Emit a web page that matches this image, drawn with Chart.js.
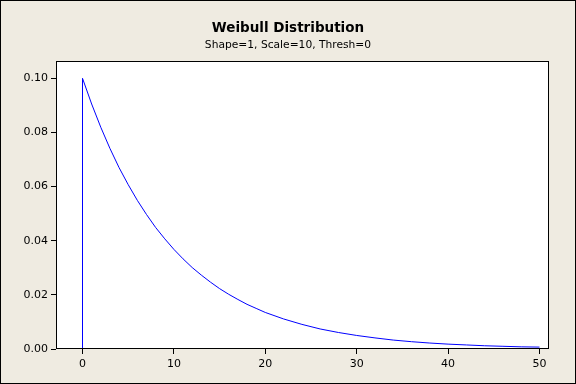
<!DOCTYPE html>
<html>
<head>
<meta charset="utf-8">
<script src="https://cdn.jsdelivr.net/npm/chart.js@4"></script>
<style>
    html, body { margin: 0; padding: 0; background: #efebe1; }
    #wrap { width: 576px; height: 384px; }
</style>
</head>
<body>
<div id="wrap"><canvas id="chart-weibull" width="576" height="384"></canvas></div>
<script>
// values
const xValues = [0, 0, 1, 2, 3, 4, 5, 6, 7, 8, 9, 10, 11, 12, 13, 14, 15, 16, 17, 18, 19, 20,
    22, 24, 26, 28, 30, 32, 34, 36, 38, 40, 42, 44, 46, 48, 50];
const density = [0, 0.1000, 0.0905, 0.0819, 0.0741, 0.0670, 0.0607, 0.0549, 0.0497, 0.0449, 0.0407,
    0.0368, 0.0333, 0.0301, 0.0273, 0.0247, 0.0223, 0.0202, 0.0183, 0.0165, 0.0150, 0.0135,
    0.0111, 0.0091, 0.0074, 0.0061, 0.0050, 0.0041, 0.0033, 0.0027, 0.0022, 0.0018,
    0.0015, 0.0012, 0.0010, 0.0008, 0.0007];
const xTicks = [0, 10, 20, 30, 40, 50];
const yTicks = [0, 0.02, 0.04, 0.06, 0.08, 0.10];

const FONT = "'DejaVu Sans', Verdana, sans-serif";

// background, outer frame and the box round the plot area
const framePlugin = {
    id: 'frame',
    beforeDraw(chart) {
        const c = chart.ctx;
        c.save();
        c.fillStyle = '#efebe1';
        c.fillRect(0, 0, chart.width, chart.height);
        c.strokeStyle = '#000';
        c.lineWidth = 1;
        c.strokeRect(0.5, 0.5, chart.width - 1, chart.height - 1);
        const a = chart.chartArea;
        c.fillStyle = '#fff';
        c.fillRect(a.left, a.top, a.right - a.left, a.bottom - a.top);
        c.restore();
    },
    afterDatasetsDraw(chart) {
        const c = chart.ctx;
        const a = chart.chartArea;
        c.save();
        c.strokeStyle = '#000';
        c.lineWidth = 1;
        const l = Math.round(a.left), t = Math.round(a.top);
        const r = Math.round(a.right), b = Math.round(a.bottom);
        c.strokeRect(l + 0.5, t + 0.5, r - l - 1, b - t - 1);
        c.restore();
    }
};

const points = xValues.map((x, i) => ({ x: x, y: density[i] }));

new Chart(document.getElementById('chart-weibull'), {
    type: 'scatter',
    data: {
        datasets: [{
            data: points,
            showLine: true,
            borderColor: '#0000ff',
            borderWidth: 1,
            pointRadius: 0,
            tension: 0,
        }],
    },
    options: {
        responsive: false,
        animation: false,
        layout: { padding: 0 },
        scales: {
            x: {
                type: 'linear',
                min: -2.9,
                max: 51.04,
                afterBuildTicks: (s) => { s.ticks = xTicks.map(v => ({ value: v })); },
                afterFit: (s) => { s.height = 35; },
                ticks: { color: '#000', font: { family: FONT, size: 11 }, padding: 4, maxRotation: 0 },
                grid: { drawOnChartArea: false, tickLength: 5, color: '#000' },
                border: { display: false },
            },
            y: {
                type: 'linear',
                min: 0,
                max: 0.1063,
                afterBuildTicks: (s) => { s.ticks = yTicks.map(v => ({ value: v })); },
                afterFit: (s) => { s.width = 56; },
                ticks: {
                    color: '#000',
                    font: { family: FONT, size: 11 },
                    padding: 3,
                    callback: (v) => v.toFixed(2),
                },
                grid: { drawOnChartArea: false, tickLength: 5, color: '#000' },
                border: { display: false },
            },
            // empty axis on the right, keeps the title centred on the page
            yR: {
                type: 'linear',
                position: 'right',
                display: true,
                afterFit: (s) => { s.width = 27; },
                ticks: { display: false },
                grid: { display: false },
                border: { display: false },
            },
        },
        plugins: {
            legend: { display: false },
            tooltip: { enabled: false },
            title: {
                display: true,
                text: 'Weibull Distribution',
                color: '#000',
                font: { family: FONT, size: 13.5, weight: 'bold' },
                padding: { top: 20, bottom: 0 },
            },
            subtitle: {
                display: true,
                text: 'Shape=1, Scale=10, Thresh=0',
                color: '#000',
                font: { family: FONT, size: 10.7 },
                padding: { top: 2.6, bottom: 9.6 },
            },
        },
    },
    plugins: [framePlugin],
});
</script>
</body>
</html>
